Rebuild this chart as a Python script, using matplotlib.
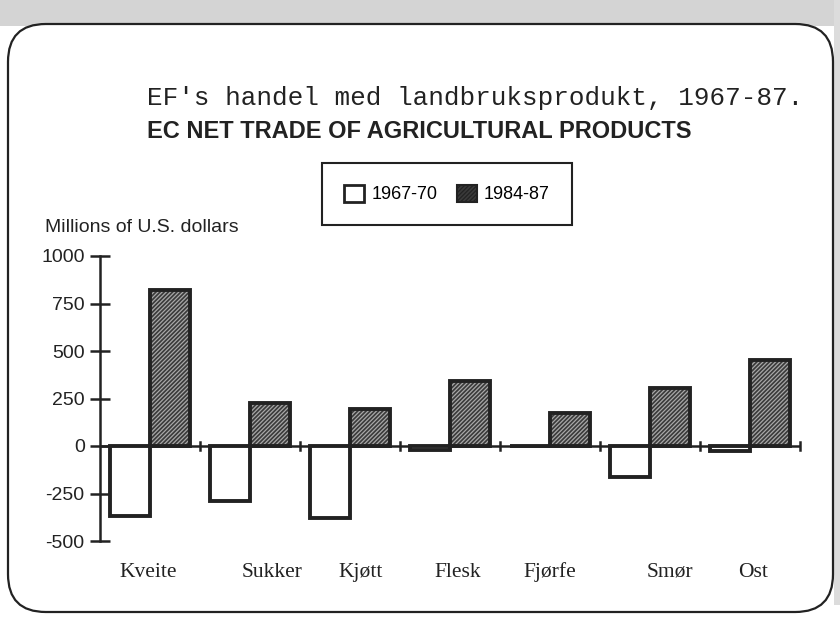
import matplotlib.pyplot as plt
import numpy as np
from matplotlib.patches import FancyBboxPatch, Rectangle, Patch

# data (millions of US dollars)
produkter = ["Kveite", "Sukker", "Kjøtt", "Flesk", "Fjørfe", "Smør", "Ost"]
v_1967_70 = [-370, -290, -380, -20, 0, -165, -25]
v_1984_87 = [820, 225, 195, 340, 175, 305, 455]
label_shift = [-0.02, 0.22, 0.11, 0.08, 0.0, 0.2, 0.03]
yticks = [-500, -250, 0, 250, 500, 750, 1000]

plt.rcParams['hatch.linewidth'] = 0.9

fig = plt.figure(figsize=(8.4, 6.17), dpi=100)
fig.patch.set_facecolor('white')

# stippled band at top and right side, like the scan
fig.patches.append(Rectangle((0, 1 - 26/617), 1, 26/617, transform=fig.transFigure,
                             facecolor='#d4d4d4', edgecolor='none', zorder=0))
fig.patches.append(Rectangle((834/840, 0.02), 6/840, 0.98, transform=fig.transFigure,
                             facecolor='#dcdcdc', edgecolor='none', zorder=0))
# rounded frame
frame = FancyBboxPatch((8/840, 5/617), 825/840, 588/617,
                       boxstyle="round,pad=0,rounding_size=0.045",
                       transform=fig.transFigure, facecolor='white',
                       edgecolor='#222222', linewidth=1.6, zorder=1,
                       mutation_aspect=840/617)
fig.patches.append(frame)

ax = fig.add_axes([100/840, (617-541)/617, 700/840, 285/617])
ax.set_facecolor('none')
ax.set_zorder(5)

x = np.arange(len(produkter))
w = 0.4
ax.bar(x + 0.5 - w/2, v_1967_70, w, facecolor='white', edgecolor='#222222',
       linewidth=2.8, zorder=3)
ax.bar(x + 0.5 + w/2, v_1984_87, w, facecolor='#3a3a3a', edgecolor='#a8a8a8',
       hatch='////////', linewidth=0, zorder=3)
ax.bar(x + 0.5 + w/2, v_1984_87, w, fill=False, edgecolor='#222222',
       linewidth=2.8, zorder=4)

ax.set_xlim(0, len(produkter))
ax.set_ylim(-500, 1000)

for s in ['top', 'right', 'bottom']:
    ax.spines[s].set_visible(False)
ax.spines['left'].set_linewidth(1.8)
ax.spines['left'].set_color('#222222')
ax.axhline(0, color='#222222', linewidth=1.8, zorder=2)

ax.set_yticks(yticks)
ax.set_yticklabels([str(t) for t in yticks], fontfamily='Liberation Sans', fontsize=14)
ax.tick_params(axis='y', direction='inout', length=14, width=1.8, colors='#222222', pad=4)

ax.set_xticks([])
for i in range(1, len(produkter) + 1):
    ax.plot([i, i], [-22, 22], color='#222222', linewidth=1.8, zorder=2, clip_on=False)
for i, navn in enumerate(produkter):
    ax.text(i + 0.5 + label_shift[i], -665, navn, ha='center', va='center',
            fontfamily='Liberation Serif', fontsize=15.5, color='#222222')

fig.text(147/840, 1 - 98/617, "EF's handel med landbruksprodukt, 1967-87.",
         fontfamily='Liberation Mono', fontsize=18.7, color='#222222', va='center')
fig.text(147/840, 1 - 131/617, "EC NET TRADE OF AGRICULTURAL PRODUCTS",
         fontfamily='Liberation Sans', fontweight='bold', fontsize=17,
         color='#222222', va='center')
fig.text(45/840, 1 - 228/617, "Millions of U.S. dollars",
         fontfamily='Liberation Sans', fontsize=14, color='#222222', va='center')

# legend
h1 = Patch(facecolor='white', edgecolor='#222222', linewidth=2)
h2 = Patch(facecolor='#3a3a3a', edgecolor='#222222', hatch='////////', linewidth=1.5)
leg = fig.legend([h1, h2], ['1967-70', '1984-87'], ncol=2,
                 loc='center', bbox_to_anchor=(447/840, 1 - 194/617),
                 prop={'family': 'Liberation Sans', 'size': 13},
                 fancybox=False, edgecolor='#222222', framealpha=1,
                 handlelength=1.1, handleheight=1.1, handletextpad=0.4,
                 columnspacing=1.1, borderpad=1.2)
leg.get_frame().set_linewidth(1.5)
leg.set_zorder(6)

plt.savefig('out.png', dpi=100)
